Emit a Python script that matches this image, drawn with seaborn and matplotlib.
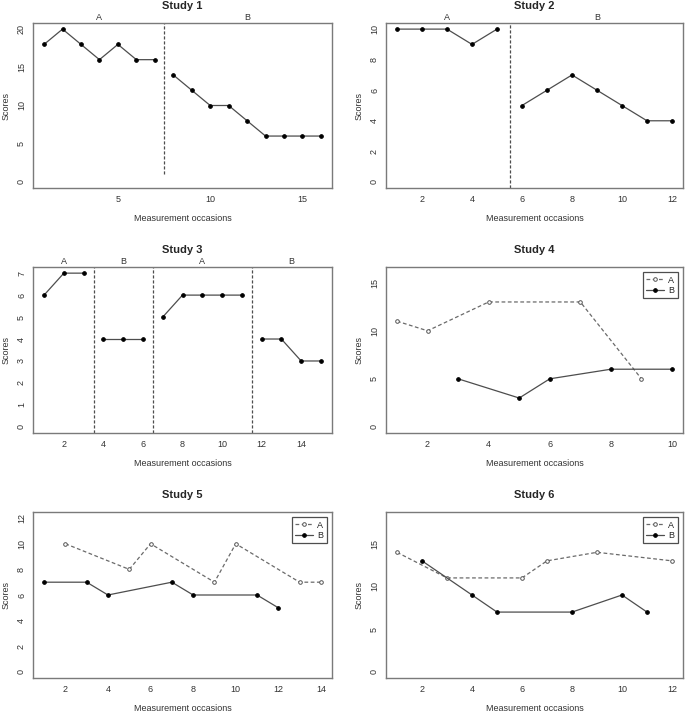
import matplotlib

matplotlib.use("Agg")

import matplotlib.pyplot as plt
import pandas as pd
import seaborn as sns

# Studies 1-3: single series split into phases
s1_x = list(range(1, 17))
s1_y = [18, 20, 18, 16, 18, 16, 16, 14, 12, 10, 10, 8, 6, 6, 6, 6]
s1_phase = ["A"] * 7 + ["B"] * 9
s1_seg = [0] * 7 + [1] * 9

s2_x = list(range(1, 13))
s2_y = [10, 10, 10, 9, 10, 5, 6, 7, 6, 5, 4, 4]
s2_phase = ["A"] * 5 + ["B"] * 7
s2_seg = [0] * 5 + [1] * 7

s3_x = list(range(1, 16))
s3_y = [6, 7, 7, 4, 4, 4, 5, 6, 6, 6, 6, 4, 4, 3, 3]
s3_phase = ["A"] * 3 + ["B"] * 3 + ["A"] * 5 + ["B"] * 4
s3_seg = [0] * 3 + [1] * 3 + [2] * 5 + [3] * 4

# Studies 4-6: two alternating series
s4_a_x = [1, 2, 4, 7, 9]
s4_a_y = [11, 10, 13, 13, 5]
s4_b_x = [3, 5, 6, 8, 10]
s4_b_y = [5, 3, 5, 6, 6]

s5_a_x = [2, 5, 6, 9, 10, 13, 14]
s5_a_y = [10, 8, 10, 7, 10, 7, 7]
s5_b_x = [1, 3, 4, 7, 8, 11, 12]
s5_b_y = [7, 7, 6, 7, 6, 6, 5]

s6_a_x = [1, 3, 6, 7, 9, 12]
s6_a_y = [14, 11, 11, 13, 14, 13]
s6_b_x = [2, 4, 5, 8, 10, 11]
s6_b_y = [13, 9, 7, 7, 9, 7]

LINE = "#4d4d4d"
FRAME = "#7a7a7a"
TEXT = "#333333"
MS = 2.6

sns.set_style("white")
plt.rcParams["font.family"] = ["Liberation Sans", "DejaVu Sans"]

fig = plt.figure(figsize=(6.85, 7.13), dpi=100)
W, H = 685, 713


def make_ax(left, top, right, bottom):
    return fig.add_axes([left / W, 1 - bottom / H, (right - left) / W, (bottom - top) / H])


def style_ax(ax, title, xticks, yticks, xmax, ymax):
    ax.set_xlim(1 - 0.04 * (xmax - 1), xmax + 0.04 * (xmax - 1))
    ax.set_ylim(-0.04 * ymax, ymax * 1.04)
    ax.set_xticks(xticks)
    ax.set_yticks(yticks)
    for s in ax.spines.values():
        s.set_color(FRAME)
        s.set_linewidth(1.0)
    ax.tick_params(axis="both", direction="out", length=3, width=0.8, color=FRAME,
                   labelsize=6.5, labelcolor=TEXT, pad=2)
    ax.tick_params(axis="y", labelrotation=90)
    ax.set_title(title, fontsize=8, fontweight="bold", pad=10)


def phase_plot(ax, xs, ys, phases, segs, vline_bottom=None):
    df = pd.DataFrame({"x": xs, "y": ys, "phase": phases, "seg": segs})
    sns.lineplot(data=df, x="x", y="y", units="seg", estimator=None, ax=ax,
                 color=LINE, lw=0.9, marker="o", markersize=MS,
                 markerfacecolor="black", markeredgecolor="black", legend=False)
    ymin, ymax = ax.get_ylim()
    groups = df.groupby("seg")
    seg_ids = sorted(df["seg"].unique())
    for i, sid in enumerate(seg_ids):
        g = groups.get_group(sid)
        ax.annotate(g["phase"].iloc[0], xy=(g["x"].mean(), 1.0),
                    xycoords=("data", "axes fraction"), xytext=(0, 1),
                    textcoords="offset points", ha="center", va="bottom",
                    fontsize=6.5, color=TEXT)
        if i < len(seg_ids) - 1:
            nxt = groups.get_group(seg_ids[i + 1])
            bx = (g["x"].max() + nxt["x"].min()) / 2
            lo = ymin if vline_bottom is None else vline_bottom
            ax.plot([bx, bx], [lo, ymax], color=LINE, lw=0.9, ls=(0, (2.5, 1.5)))
    ax.set_ylim(ymin, ymax)


def two_series_plot(ax, ax_, ay_, bx_, by_):
    da = pd.DataFrame({"x": ax_, "y": ay_})
    db = pd.DataFrame({"x": bx_, "y": by_})
    sns.lineplot(data=da, x="x", y="y", ax=ax, estimator=None, color="#6a6a6a",
                 lw=0.9, ls=(0, (3, 2)), marker="o", markersize=MS,
                 markerfacecolor="white", markeredgecolor="#555555",
                 markeredgewidth=0.7, label="A")
    sns.lineplot(data=db, x="x", y="y", ax=ax, estimator=None, color=LINE,
                 lw=0.9, marker="o", markersize=MS, markerfacecolor="black",
                 markeredgecolor="black", label="B")
    leg = ax.legend(loc="upper right", fontsize=6.5, frameon=True, fancybox=False,
                    edgecolor="#222222", borderpad=0.35, labelspacing=0.15,
                    handlelength=2.0, handletextpad=0.5, borderaxespad=0.6)
    leg.get_frame().set_linewidth(0.9)


# Study 1
ax1 = make_ax(33, 23, 332, 188)
style_ax(ax1, "Study 1", [5, 10, 15], [0, 5, 10, 15, 20], 16, 20)
phase_plot(ax1, s1_x, s1_y, s1_phase, s1_seg, vline_bottom=1)

# Study 2
ax2 = make_ax(386, 23, 683, 188)
style_ax(ax2, "Study 2", [2, 4, 6, 8, 10, 12], [0, 2, 4, 6, 8, 10], 12, 10)
phase_plot(ax2, s2_x, s2_y, s2_phase, s2_seg)

# Study 3
ax3 = make_ax(33, 267, 332, 433)
style_ax(ax3, "Study 3", [2, 4, 6, 8, 10, 12, 14], list(range(0, 8)), 15, 7)
phase_plot(ax3, s3_x, s3_y, s3_phase, s3_seg)

# Study 4
ax4 = make_ax(386, 267, 683, 433)
style_ax(ax4, "Study 4", [2, 4, 6, 8, 10], [0, 5, 10, 15], 10, 16)
two_series_plot(ax4, s4_a_x, s4_a_y, s4_b_x, s4_b_y)

# Study 5
ax5 = make_ax(33, 512, 332, 678)
style_ax(ax5, "Study 5", [2, 4, 6, 8, 10, 12, 14], [0, 2, 4, 6, 8, 10, 12], 14, 12)
two_series_plot(ax5, s5_a_x, s5_a_y, s5_b_x, s5_b_y)

# Study 6
ax6 = make_ax(386, 512, 683, 678)
style_ax(ax6, "Study 6", [2, 4, 6, 8, 10, 12], [0, 5, 10, 15], 12, 18)
two_series_plot(ax6, s6_a_x, s6_a_y, s6_b_x, s6_b_y)

for ax in [ax1, ax2, ax3, ax4, ax5, ax6]:
    ax.set_xlabel("Measurement occasions", fontsize=6.5, color=TEXT, labelpad=7)
    ax.set_ylabel("Scores", fontsize=6.5, color=TEXT, labelpad=5)
    for lab in ax.get_yticklabels():
        lab.set_va("center")

fig.savefig("out.png", dpi=100)
plt.close(fig)
